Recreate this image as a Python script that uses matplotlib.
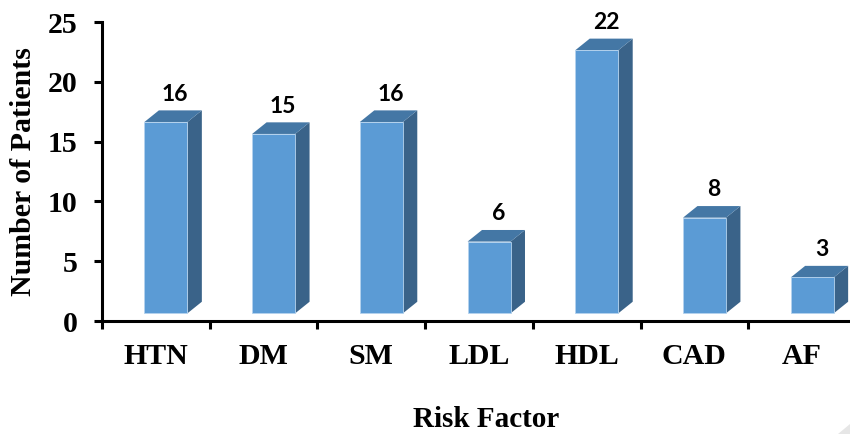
import matplotlib
matplotlib.use("Agg")
import matplotlib.pyplot as plt
from matplotlib.patches import Polygon

# risk factor counts
factors = ["HTN", "DM", "SM", "LDL", "HDL", "CAD", "AF"]
patients = [16, 15, 16, 6, 22, 8, 3]
y_ticks = [0, 5, 10, 15, 20, 25]

FRONT = "#5b9bd5"
SIDE = "#3a6389"
TOP = "#4477a5"
SERIF = "Liberation Serif"

fig = plt.figure(figsize=(8.5, 4.34), dpi=100)
ax = fig.add_axes([102 / 850, 113 / 434, 754 / 850, 299 / 434])
ax.set_xlim(-0.5, 6.5)
ax.set_ylim(0, 25)

# fake 3d offsets in data units, bars float a bit above the axis
base = 0.64
dx = 0.134
dy = 0.97
left = -0.106
width = 0.399

for i, v in enumerate(patients):
    x0 = i + left
    x1 = x0 + width
    y0 = base
    y1 = base + v
    ax.bar(x0, v, width=width, bottom=base, align="edge", color=FRONT,
           edgecolor="#b5d3ee", linewidth=0.6, zorder=3)
    ax.add_patch(Polygon([(x1, y0), (x1 + dx, y0 + dy), (x1 + dx, y1 + dy), (x1, y1)],
                         facecolor=SIDE, edgecolor="none", zorder=2))
    ax.add_patch(Polygon([(x0, y1), (x0 + dx, y1 + dy), (x1 + dx, y1 + dy), (x1, y1)],
                         facecolor=TOP, edgecolor="none", zorder=2))
    ax.text(i + 0.18, y1 + dy + 1.35, str(v), ha="center", va="center",
            fontsize=16.5, fontweight="bold", family="Lato", color="black")

for s in ["top", "right"]:
    ax.spines[s].set_visible(False)
for s in ["left", "bottom"]:
    ax.spines[s].set_linewidth(2.2)

ax.set_yticks(y_ticks)
ax.set_xticks([i - 0.5 for i in range(8)])
ax.set_xticklabels([])
ax.tick_params(axis="y", length=5.5, width=2.2, pad=12, labelsize=21.5)
ax.tick_params(axis="x", length=5.5, width=2.2)
for lab in ax.get_yticklabels():
    lab.set_fontfamily(SERIF)
    lab.set_fontweight("bold")

for i, f in enumerate(factors):
    ax.annotate(f, (i, 0), xytext=(0, -36), textcoords="offset pixels", ha="center", va="center",
                fontsize=21.5, fontweight="bold", family=SERIF)

fig.text(486.5 / 850, 1 - 427 / 434, "Risk Factor", ha="center", va="baseline",
         fontsize=21, fontweight="bold", family=SERIF)
fig.text(24 / 850, 1 - 172 / 434, "Number of Patients", rotation=90, ha="center", va="center",
         fontsize=21.5, fontweight="bold", family=SERIF)

# grey scrap of a watermark in the corner
fig.add_artist(Polygon([(838 / 850, 0), (850 / 850, 10 / 434), (850 / 850, 0)],
                       transform=fig.transFigure, facecolor="#e6e6e6", edgecolor="none"))

fig.savefig("out.png", dpi=100)
